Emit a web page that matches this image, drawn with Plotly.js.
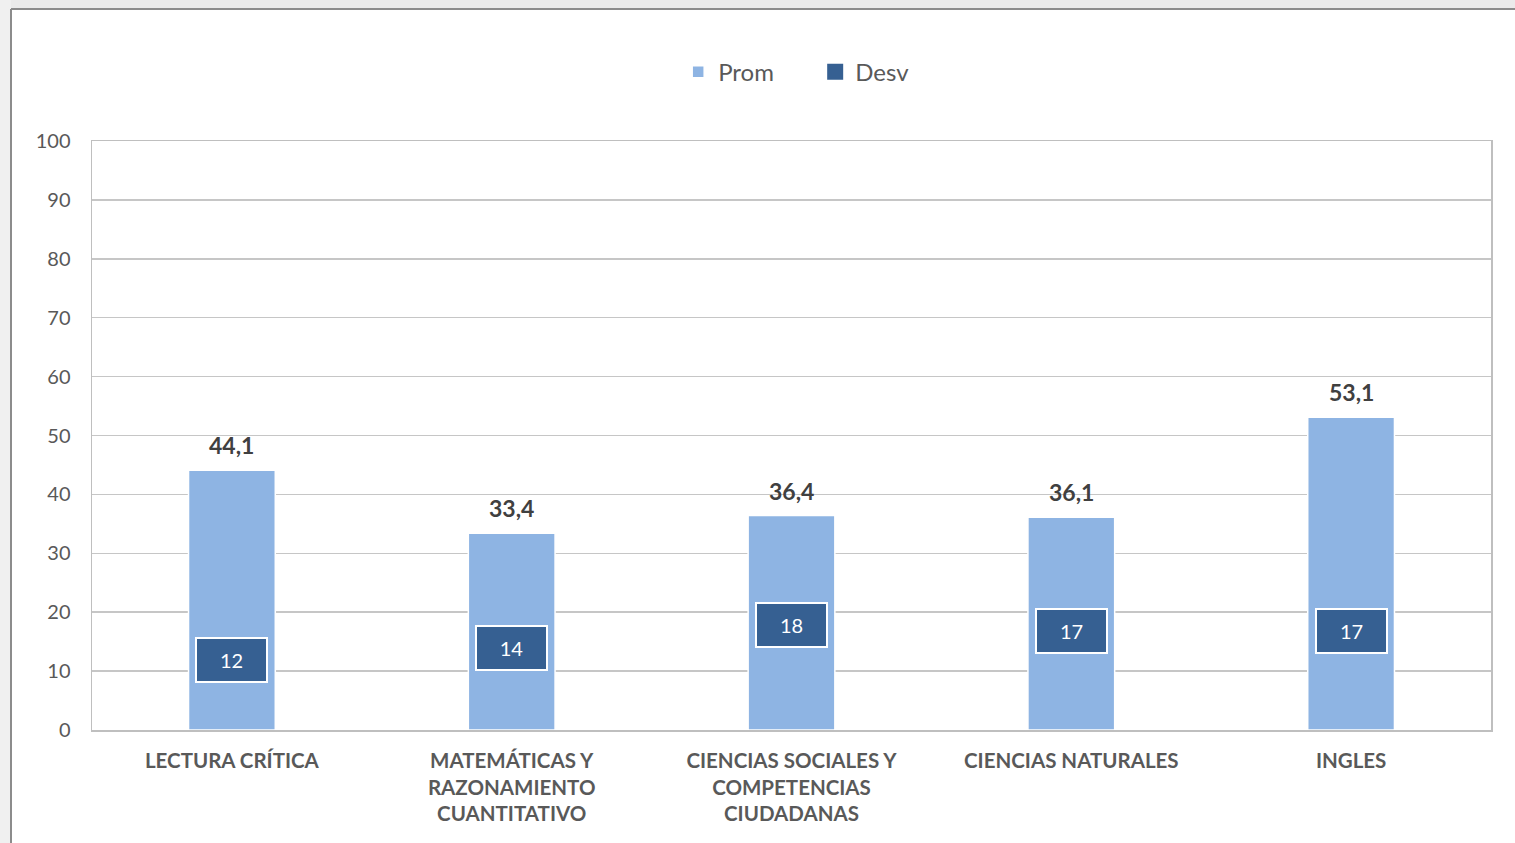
<!DOCTYPE html>
<html>
<head>
<meta charset="utf-8">
<script src="https://cdn.plot.ly/plotly-3.0.1.min.js"></script>
<style>html,body{margin:0;padding:0;background:#fff;}#chart{width:1515px;height:843px;}</style>
</head>
<body>
<div id="chart"></div>
<script>
const categories = ["LECTURA CRÍTICA", "MATEMÁTICAS Y RAZONAMIENTO CUANTITATIVO", "CIENCIAS SOCIALES Y COMPETENCIAS CIUDADANAS", "CIENCIAS NATURALES", "INGLES"];
const tickLabels = ["LECTURA CRÍTICA", "MATEMÁTICAS Y<br>RAZONAMIENTO<br>CUANTITATIVO", "CIENCIAS SOCIALES Y<br>COMPETENCIAS<br>CIUDADANAS", "CIENCIAS NATURALES", "INGLES"];
const prom = [44.1, 33.4, 36.4, 36.1, 53.1];
const desv = [11.9, 13.9, 17.8, 16.8, 16.8];
const yTicks = [0, 10, 20, 30, 40, 50, 60, 70, 80, 90, 100];

const lightBlue = "#8eb4e3";
const darkBlue = "#366092";
const FONT = "Lato, 'Open Sans', sans-serif";

const traces = [
  {
    type: "bar", name: "Prom", x: categories, y: prom,
    marker: {color: lightBlue, line: {color: "#ffffff", width: 1.5}},
    width: 0.31
  },
  {
    type: "scatter", mode: "markers", name: "Desv", x: categories, y: desv,
    marker: {symbol: "square", size: 18, color: darkBlue}
  }
];

const promLabels = categories.map((c, i) => ({
  x: c, y: prom[i], xref: "x", yref: "y",
  text: prom[i].toFixed(1).replace(".", ","), showarrow: false,
  yanchor: "bottom", yshift: 9,
  font: {family: FONT, size: 23, color: "#404040", weight: "bold"}
}));

const desvLabels = categories.map((c, i) => ({
  x: c, y: desv[i], xref: "x", yref: "y",
  text: String(Math.round(desv[i])), showarrow: false,
  bgcolor: darkBlue, bordercolor: "#ffffff", borderwidth: 2,
  width: 67, height: 40,
  font: {family: FONT, size: 20, color: "#ffffff"}
}));

const layout = {
  width: 1515, height: 843,
  margin: {l: 92, r: 24, t: 141, b: 113, autoexpand: false},
  paper_bgcolor: "#ffffff", plot_bgcolor: "#ffffff",
  separators: ",.",
  showlegend: true,
  legend: {orientation: "h", x: 0.419, xanchor: "left", y: 1.117, yanchor: "middle",
    xref: "paper", yref: "paper", bgcolor: "rgba(0,0,0,0)",
    font: {family: FONT, size: 24, color: "#595959"},
    entrywidth: 92, entrywidthmode: "pixels"},
  xaxis: {
    tickmode: "array", tickvals: categories, ticktext: tickLabels,
    showgrid: false, showline: true, linecolor: "#bfbfbf", linewidth: 1.5, mirror: true,
    ticks: "", ticklabelstandoff: 12,
    tickfont: {family: FONT, size: 20.5, color: "#595959", weight: "bold"},
    fixedrange: true
  },
  yaxis: {
    range: [0, 100], tickmode: "array", tickvals: yTicks,
    showgrid: true, gridcolor: "#c6c6c6", gridwidth: 1.5,
    showline: true, linecolor: "#bfbfbf", linewidth: 1.5, mirror: true,
    zeroline: false, ticks: "", ticklabelstandoff: 16,
    tickfont: {family: FONT, size: 20, color: "#595959"},
    fixedrange: true
  },
  annotations: promLabels.concat(desvLabels),
  shapes: [
    {type: "rect", xref: "paper", yref: "paper", x0: -0.07, x1: 1.02, y0: 1.2241, y1: 1.245, line: {width: 0}, fillcolor: "#ebebeb", layer: "below"},
    {type: "rect", xref: "paper", yref: "paper", x0: -0.07, x1: -0.0579, y0: -0.2, y1: 1.245, line: {width: 0}, fillcolor: "#f0f0f0", layer: "below"},
    {type: "line", xref: "paper", yref: "paper", x0: -0.0579, x1: 1.02, y0: 1.2241, y1: 1.2241, line: {color: "#8c8c8c", width: 2}},
    {type: "line", xref: "paper", yref: "paper", x0: -0.0579, x1: -0.0579, y0: 1.2241, y1: -0.2, line: {color: "#8c8c8c", width: 2}}
  ]
};

Plotly.newPlot("chart", traces, layout, {displayModeBar: false, staticPlot: true});
</script>
</body>
</html>
